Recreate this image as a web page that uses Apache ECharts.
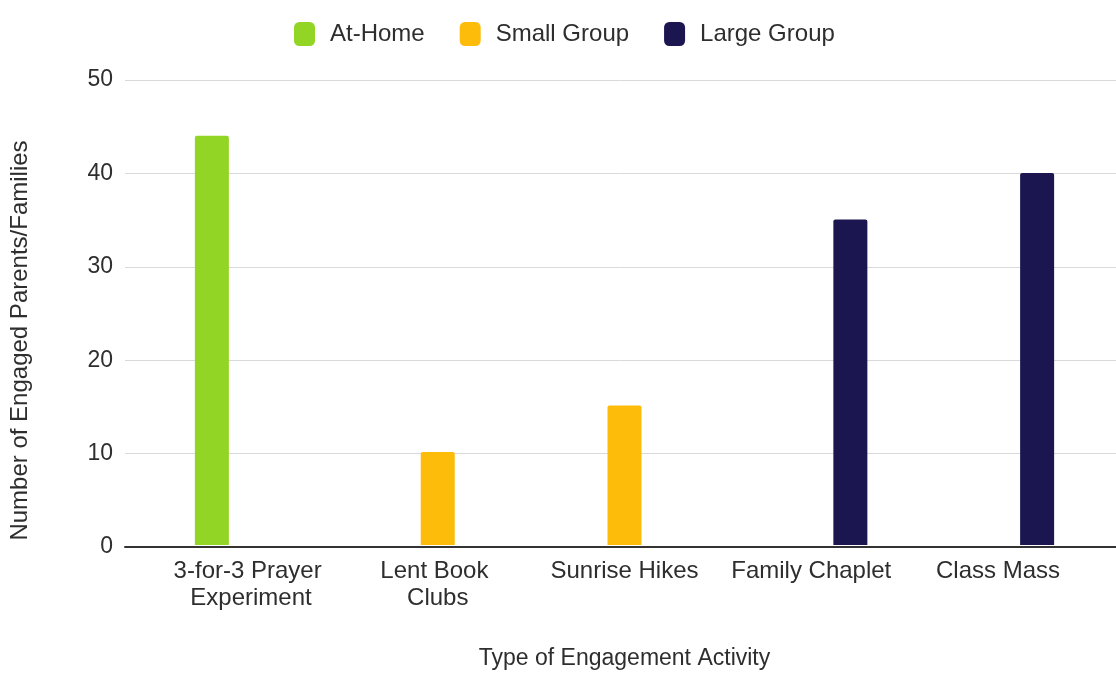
<!DOCTYPE html>
<html>
<head>
<meta charset="utf-8">
<script src="https://cdn.jsdelivr.net/npm/echarts@6/dist/echarts.min.js"></script>
<style>
html,body{margin:0;padding:0;background:#fff;}
#chart{width:1116px;height:675px;}
</style>
</head>
<body>
<div id="chart"></div>
<script>
var categories = ['3-for-3 Prayer Experiment', 'Lent Book Clubs', 'Sunrise Hikes', 'Family Chaplet', 'Class Mass'];
var seriesNames = ['At-Home', 'Small Group', 'Large Group'];
var atHome = [44, null, null, null, null];
var smallGroup = [null, 10, 15, null, null];
var largeGroup = [null, null, null, 35, 40];
var yTicks = [0, 10, 20, 30, 40, 50];
var yAxisTitle = 'Number of Engaged Parents/Families';
var xAxisTitle = 'Type of Engagement Activity';

var colors = ['#93d524', '#fdbb0a', '#1c1650'];
var font = '"Liberation Sans", Arial, sans-serif';
var txt = '#2e2e2e';

var chart = echarts.init(document.getElementById('chart'), null, {renderer: 'canvas'});
var option = {
  backgroundColor: '#fff',
  color: colors,
  textStyle: {fontFamily: font},
  legend: {
    top: 17,
    left: 289,
    itemWidth: 21,
    itemHeight: 24,
    itemGap: 35,
    icon: 'roundRect',
    textStyle: {fontSize: 24, color: txt, fontFamily: font, padding: [0, 0, 0, 10]},
    data: seriesNames
  },
  grid: [
    {left: 125, right: 0, top: 80, bottom: 128},
    {left: 157.6, right: 24.6, top: 80, bottom: 128}
  ],
  xAxis: [
    {
      gridIndex: 0, type: 'value', min: 0, max: 1,
      axisLine: {show: true, lineStyle: {color: '#333', width: 2}},
      axisTick: {show: false}, axisLabel: {show: false}, splitLine: {show: false}
    },
    {
      gridIndex: 1, type: 'category', data: categories,
      axisLine: {show: false}, axisTick: {show: false},
      axisLabel: {
        interval: 0, fontSize: 24, color: txt, fontFamily: font, margin: 13,
        width: 168, overflow: 'break', lineHeight: 27
      },
      name: xAxisTitle, nameLocation: 'middle', nameGap: 102,
      nameTextStyle: {fontSize: 23, color: txt, fontFamily: font}
    }
  ],
  yAxis: [
    {
      gridIndex: 0, type: 'value', min: yTicks[0], max: yTicks[yTicks.length - 1], interval: 10,
      axisLine: {show: false}, axisTick: {show: false},
      axisLabel: {fontSize: 23, color: txt, fontFamily: font, margin: 12},
      splitLine: {lineStyle: {color: '#d9d9d9', width: 1}},
      name: yAxisTitle, nameLocation: 'middle', nameGap: 93,
      nameTextStyle: {fontSize: 24, color: txt, fontFamily: font, padding: [0, 54, 0, 0]}
    },
    {
      gridIndex: 1, type: 'value', min: yTicks[0], max: yTicks[yTicks.length - 1], interval: 10,
      show: false
    }
  ],
  series: [
    {name: seriesNames[0], type: 'bar', xAxisIndex: 1, yAxisIndex: 1, data: atHome, barWidth: 34, barGap: '15%', itemStyle: {borderRadius: [2, 2, 0, 0]}},
    {name: seriesNames[1], type: 'bar', xAxisIndex: 1, yAxisIndex: 1, data: smallGroup, barWidth: 34, barGap: '15%', itemStyle: {borderRadius: [2, 2, 0, 0]}},
    {name: seriesNames[2], type: 'bar', xAxisIndex: 1, yAxisIndex: 1, data: largeGroup, barWidth: 34, barGap: '15%', itemStyle: {borderRadius: [2, 2, 0, 0]}}
  ],
  animation: false
};
chart.setOption(option);
</script>
</body>
</html>
